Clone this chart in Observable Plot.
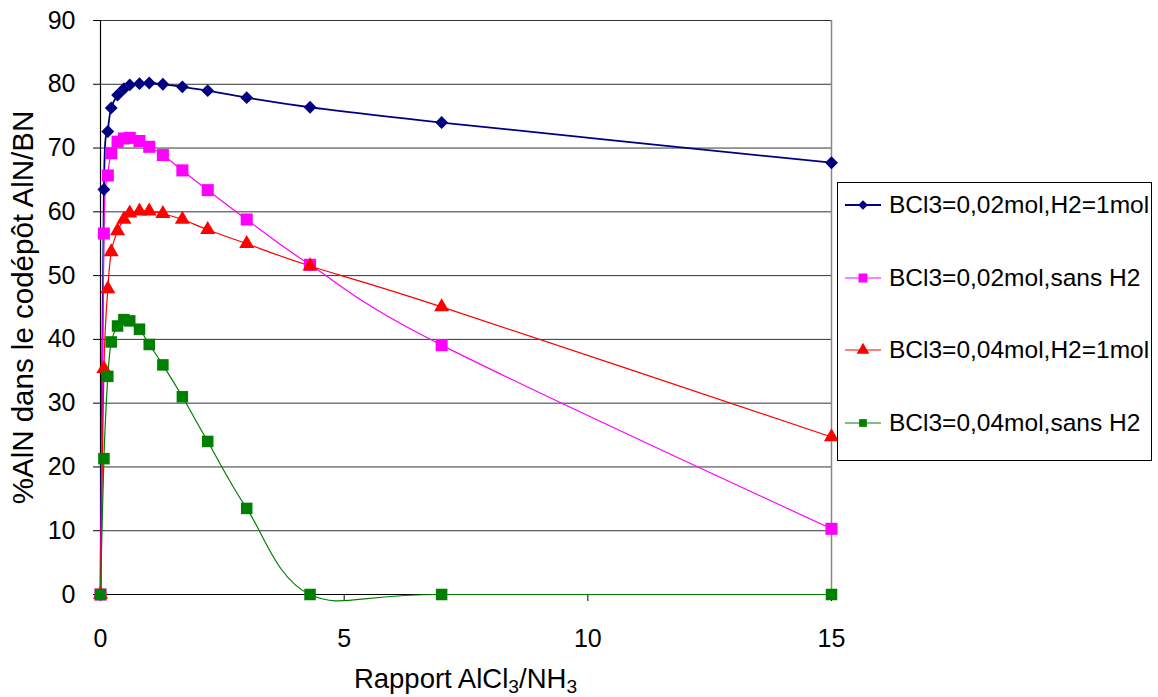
<!DOCTYPE html>
<html>
<head>
<meta charset="utf-8">
<script src="https://cdn.jsdelivr.net/npm/d3@7"></script>
<script src="https://cdn.jsdelivr.net/npm/@observablehq/plot@0.6"></script>
<style>
  body { margin: 0; background: #fff; font-family: "Liberation Sans", Arial, sans-serif; }
  #wrap { position: relative; width: 1158px; height: 697px; }
  #legend { position: absolute; left: 837px; top: 182px; width: 313px; height: 277px; border: 1px solid #000; background: #fff; }
  .row { position: absolute; left: 0; height: 30px; display: flex; align-items: center; font-size: 24.5px; color: #000; white-space: nowrap; }
  .row svg { margin-left: 7px; margin-right: 8px; }
  #xtitle { position: absolute; left: 100px; width: 731px; top: 663px; text-align: center; font-size: 27.5px; color: #000; }
  #xtitle sub { font-size: 0.7em; vertical-align: -0.25em; }
</style>
</head>
<body>
<div id="wrap">
  <div id="chart"></div>
  <div id="legend"></div>
  <div id="xtitle">Rapport AlCl<sub>3</sub>/NH<sub>3</sub></div>
</div>
<script>
// Data
const ratio = [0, 0.07, 0.15, 0.22, 0.35, 0.48, 0.6, 0.8, 1.0, 1.28, 1.68, 2.2, 3.0, 4.3, 7, 15];
const s1 = [0, 63.5, 72.6, 76.3, 78.3, 79.3, 79.9, 80.1, 80.2, 80.0, 79.6, 79.0, 77.9, 76.4, 74.0, 67.7]; // BCl3=0,02mol,H2=1mol
const s2 = [0, 56.6, 65.7, 69.2, 71.0, 71.5, 71.6, 71.1, 70.2, 68.9, 66.5, 63.4, 58.8, 51.7, 39.1, 10.3]; // BCl3=0,02mol,sans H2
const s3 = [0, 35.4, 47.9, 53.7, 57.0, 58.8, 59.8, 60.1, 60.1, 59.7, 58.8, 57.2, 55.0, 51.5, 45.1, 24.7]; // BCl3=0,04mol,H2=1mol
const s4 = [0, 21.3, 34.2, 39.6, 42.1, 43.1, 42.9, 41.6, 39.2, 36.0, 31.0, 24.0, 13.5, 0, 0, 0];          // BCl3=0,04mol,sans H2
const seriesNames = ["BCl3=0,02mol,H2=1mol", "BCl3=0,02mol,sans H2", "BCl3=0,04mol,H2=1mol", "BCl3=0,04mol,sans H2"];
const seriesValues = [s1, s2, s3, s4];
const colors = ["#000080", "#FF00FF", "#FF0000", "#008000"];
const symbols = ["diamond2", "square", "triangle", "square"];
const radii = [5.8, 6.8, 5.6, 6.5];
const widths = [1.8, 1.2, 1.2, 1.2];
const xTicks = [0, 5, 10, 15];
const yTicks = [0, 10, 20, 30, 40, 50, 60, 70, 80, 90];
const yTitle = "%AlN dans le codépôt AlN/BN";

const rows = seriesNames.flatMap((name, i) => ratio.map((r, j) => ({series: name, idx: i, x: r, y: seriesValues[i][j]})));

const marks = [
  Plot.gridY(yTicks, {stroke: "#333", strokeOpacity: 1, strokeWidth: 1}),
  Plot.ruleX([15], {stroke: "#888", strokeWidth: 1.5}),
  Plot.ruleY([0], {stroke: "#000", strokeWidth: 1.2}),
  Plot.ruleX([0], {stroke: "#000", strokeWidth: 1.2}),
  Plot.axisY(yTicks, {tickSize: 7, tickPadding: 18, fontSize: 25, label: null, stroke: "#000"}),
  Plot.axisX(xTicks, {tickSize: 7, tickPadding: 28, fontSize: 25, label: null, stroke: "#000"}),
  Plot.text([yTitle], {frameAnchor: "left", textAnchor: "middle", rotate: -90, dx: -77, fontSize: 29.5, fill: "#000"})
];
seriesNames.forEach((name, i) => {
  const d = rows.filter(r => r.idx === i);
  marks.push(Plot.line(d, {x: "x", y: "y", stroke: colors[i], strokeWidth: widths[i], curve: "cardinal"}));
});
seriesNames.forEach((name, i) => {
  const d = rows.filter(r => r.idx === i);
  marks.push(Plot.dot(d, {x: "x", y: "y", symbol: symbols[i], fill: colors[i], stroke: "none", r: radii[i]}));
});

const chart = Plot.plot({
  width: 1158,
  height: 697,
  marginLeft: 100,
  marginRight: 327,
  marginTop: 20,
  marginBottom: 103,
  x: {domain: [0, 15]},
  y: {domain: [0, 90]},
  style: {fontFamily: "'Liberation Sans', Arial, sans-serif", color: "#000", background: "#fff"},
  marks
});
document.getElementById("chart").appendChild(chart);

// Legend
const legend = document.getElementById("legend");
const rowTops = [7, 80, 152, 225];
seriesNames.forEach((name, i) => {
  const row = document.createElement("div");
  row.className = "row";
  row.style.top = rowTops[i] + "px";
  const sym = d3.symbol().type([d3.symbolDiamond2, d3.symbolSquare, d3.symbolTriangle, d3.symbolSquare][i]).size([60, 80, 70, 60][i])();
  row.innerHTML = `<svg width="36" height="20"><line x1="0" x2="36" y1="10" y2="10" stroke="${colors[i]}" stroke-width="${widths[i]}"/><path d="${sym}" transform="translate(18,10)" fill="${colors[i]}"/></svg><span>${name}</span>`;
  legend.appendChild(row);
});
</script>
</body>
</html>
